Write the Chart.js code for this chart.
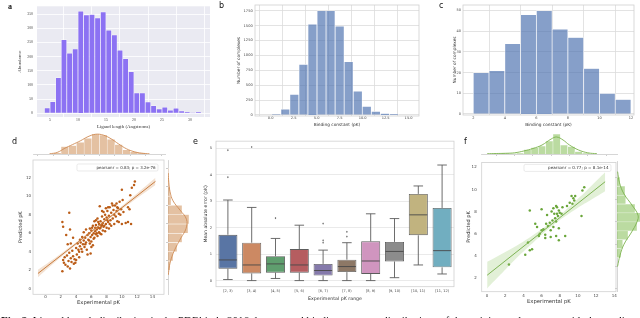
<!DOCTYPE html>
<html>
<head>
<meta charset="utf-8">
<script src="https://cdn.jsdelivr.net/npm/chart.js@4.4.1/dist/chart.umd.min.js"></script>
<style>
  html, body { margin: 0; padding: 0; background: #fff; }
  body { width: 640px; height: 318px; position: relative; overflow: hidden; font-family: "DejaVu Sans", sans-serif; }
  canvas { position: absolute; }
  .lbl { position: absolute; font-size: 8px; line-height: 8px; color: #111; }
  #caption { position: absolute; left: 1px; top: 314.5px; font-family: "Liberation Serif", serif; font-size: 11px; line-height: 11px; white-space: nowrap; color: #111; }
</style>
</head>
<body>
<canvas id="chart-a" width="215" height="135" style="left:0;top:0"></canvas>
<canvas id="chart-b" width="215" height="135" style="left:210px;top:0"></canvas>
<canvas id="chart-c" width="215" height="135" style="left:425px;top:0"></canvas>
<canvas id="chart-d-top" width="168" height="27" style="left:0;top:130px"></canvas>
<canvas id="chart-d-right" width="30" height="140" style="left:165px;top:155px"></canvas>
<canvas id="chart-d" width="168" height="163" style="left:0;top:155px"></canvas>
<canvas id="chart-e" width="275" height="183" style="left:185px;top:135px"></canvas>
<canvas id="chart-f-top" width="160" height="27" style="left:460px;top:130px"></canvas>
<canvas id="chart-f-right" width="32" height="140" style="left:614px;top:155px"></canvas>
<canvas id="chart-f" width="160" height="163" style="left:460px;top:155px"></canvas>

<div class="lbl" style="left:8px;top:3px;font-family:'Liberation Serif',serif;font-weight:bold;">a</div>
<div class="lbl" style="left:219px;top:2px;">b</div>
<div class="lbl" style="left:439px;top:2px;">c</div>
<div class="lbl" style="left:12px;top:138px;">d</div>
<div class="lbl" style="left:193px;top:138px;">e</div>
<div class="lbl" style="left:464px;top:138px;">f</div>
<div id="caption"><b>Fig. 2</b>&nbsp; Ligand length distribution in the PDBbind v2016 data set and binding constant distributions of the training and test sets, with the predicted versus experimental pK</div>

<script>
// --- dados ---

// a: comprimento do ligando (bins de 1 Å)
const ligandLength = [4.5, 5.5, 6.5, 7.5, 8.5, 9.5, 10.5, 11.5, 12.5, 13.5, 14.5, 15.5, 16.5, 17.5,
  18.5, 19.5, 20.5, 21.5, 22.5, 23.5, 24.5, 25.5, 26.5, 27.5, 28.5, 29.5, 30.5, 31.5];
const ligandCount = [19, 41, 126, 260, 212, 227, 361, 348, 349, 337, 358, 294, 277, 223,
  193, 147, 72, 72, 40, 27, 15, 21, 11, 18, 8, 3, 1, 3];

// b: constante de ligação (treino)
const trainPk = [0.60, 1.59, 2.57, 3.56, 4.54, 5.53, 6.51, 7.50, 8.48, 9.47, 10.45, 11.44, 12.42, 13.41];
const trainCount = [17, 100, 347, 850, 1525, 1750, 1750, 1490, 894, 402, 145, 60, 22, 10];

// c: constante de ligação (teste)
const testPk = [2.5, 3.5, 4.5, 5.5, 6.5, 7.5, 8.5, 9.5, 10.5, 11.5];
const testCount = [20, 21, 34, 48, 50, 41, 37, 22, 10, 7];

// d: experimental vs previsto
const dPairs = [
  [2.2, 1.9], [2.3, 3.1], [2.4, 2.8], [2.5, 3.4], [2.6, 2.6], [2.8, 3.6], [2.9, 2.4], [3.0, 3.0], [3.1, 3.9], [3.2, 2.2],
  [3.3, 3.3], [3.4, 2.9], [3.5, 4.1], [3.6, 3.5], [3.7, 2.7], [3.8, 3.2], [3.9, 2.8], [4.0, 3.1], [4.0, 4.4], [4.1, 3.7],
  [4.2, 4.9], [4.3, 4.2], [4.4, 3.4], [4.5, 4.6], [4.5, 5.3], [2.2, 7.2], [2.3, 6.7], [2.7, 5.8], [3.1, 8.2], [3.3, 4.9],
  [2.9, 4.8], [3.6, 5.5], [3.2, 6.4], [4.6, 5.0], [4.7, 4.3], [4.8, 5.6], [4.9, 4.8], [5.0, 5.2], [5.0, 6.1], [5.1, 4.5],
  [5.2, 5.5], [5.3, 5.0], [5.3, 6.4], [5.4, 4.2], [5.5, 5.8], [5.5, 3.7], [5.6, 5.3], [5.7, 6.0], [5.8, 4.9], [5.9, 5.6],
  [5.9, 3.8], [6.0, 6.3], [6.0, 5.1], [6.1, 5.8], [6.2, 6.8], [6.2, 4.7], [6.3, 6.0], [6.4, 5.5], [6.4, 7.3], [6.5, 6.2],
  [6.6, 5.9], [6.6, 6.9], [6.7, 6.4], [6.8, 5.7], [6.8, 7.6], [6.9, 6.6], [7.0, 6.1], [7.0, 7.0], [7.1, 8.9], [7.1, 6.5],
  [7.2, 7.3], [7.3, 5.9], [7.3, 6.8], [7.4, 7.8], [7.5, 6.3], [7.5, 7.1], [7.6, 8.3], [7.6, 6.7], [7.7, 7.5], [7.8, 6.2],
  [7.8, 8.0], [7.9, 8.7], [7.9, 7.0], [8.0, 6.6], [8.0, 7.7], [8.1, 8.4], [8.2, 7.2], [8.3, 6.5], [8.3, 7.9], [8.4, 8.8],
  [8.5, 7.4], [8.6, 6.8], [8.6, 8.2], [8.7, 9.2], [8.8, 7.6], [8.9, 8.5], [9.0, 7.0], [9.0, 8.0], [9.1, 9.0], [9.2, 7.8],
  [9.3, 9.2], [9.3, 8.4], [9.4, 7.3], [9.5, 8.7], [9.6, 7.2], [9.6, 8.1], [9.7, 9.4], [9.8, 8.0], [9.9, 8.6], [10.0, 7.0],
  [10.0, 10.7], [10.1, 9.6], [10.2, 8.3], [10.5, 7.1], [10.8, 8.8], [10.8, 7.2], [11.0, 8.6], [11.1, 10.1], [11.2, 7.0], [11.3, 10.9],
  [11.6, 11.2], [11.7, 11.6], [5.7, 5.2], [6.1, 6.6], [6.3, 5.4], [6.5, 6.6], [6.7, 6.0], [6.9, 7.2], [7.1, 6.0], [7.2, 6.6],
  [7.4, 6.9], [7.7, 6.8], [8.1, 7.4], [8.4, 7.0], [6.0, 4.5], [5.2, 4.8], [4.8, 4.0], [4.4, 4.0], [5.8, 6.5], [6.6, 7.4],
  [7.4, 8.4], [8.2, 8.8], [8.8, 9.0], [9.4, 8.8]
];
const dFitLine = [[-1, 1.65], [14.4, 11.6]];
const dBandUpper = [[-1, 2.05], [2, 3.79], [6, 6.29], [10, 8.94], [14.4, 12.0]];
const dBandLower = [[-1, 1.25], [2, 3.39], [6, 6.05], [10, 8.58], [14.4, 11.2]];
const dStat = "pearsonr = 0.83; p = 3.2e-76";

// d: marginais
const dTopBins = [1.5, 2.5, 3.5, 4.5, 5.5, 6.5, 7.5, 8.5, 9.5, 10.5, 11.5, 12.5];
const dTopCount = [1, 7, 8, 11, 15, 19, 18, 14, 9, 4, 2, 1];
const dTopKde = [[0.5, 0.2], [1.5, 1.5], [2.5, 5.5], [3.5, 9], [4.5, 12.5], [5.5, 16.5], [6.5, 18.8],
  [7.5, 18], [8.5, 14.5], [9.5, 9.5], [10.5, 5], [11.5, 2.2], [12.5, 0.8], [13.5, 0.2]];
const dRightBins = [2.5, 3.5, 4.5, 5.5, 6.5, 7.5, 8.5, 9.5, 10.5, 11.5, 12.5];
const dRightCount = [2, 5, 9, 14, 20, 21, 14, 3, 2, 1, 0.5];
const dRightKde = [[0.3, 1.5], [1.5, 2.5], [4, 3.5], [8, 4.5], [13, 5.5], [18, 6.5], [18.5, 7.5],
  [12, 8.5], [5, 9.5], [2, 10.5], [0.8, 11.5], [0.2, 12.5]];

// e: erro absoluto médio por intervalo de pK
const pkRanges = ["[2, 3)", "[3, 4)", "[4, 5)", "[5, 6)", "[6, 7)", "[7, 8)", "[8, 9)", "[9, 10)", "[10, 11)", "[11, 12)"];
const boxLow = [0.05, 0.01, 0.09, 0.01, 0.01, 0.01, 0.01, 0.12, 0.60, 0.26];
const boxQ1 = [0.46, 0.28, 0.31, 0.31, 0.20, 0.33, 0.26, 0.73, 1.72, 0.51];
const boxMedian = [0.79, 0.60, 0.64, 0.60, 0.39, 0.54, 0.75, 1.11, 2.49, 1.14];
const boxQ3 = [1.74, 1.44, 0.93, 1.20, 0.64, 0.80, 1.49, 1.47, 3.28, 2.75];
const boxHigh = [3.05, 2.77, 1.60, 2.10, 1.16, 1.44, 2.53, 2.35, 3.58, 4.37];
const boxOutliers = [[0, 3.91], [0, 4.93], [1, 5.05], [2, 2.37], [4, 1.44], [4, 1.53], [4, 2.16], [5, 1.67], [5, 1.85]];

// f: experimental vs previsto (conjunto de teste)
const fPairs = [
  [2.4, 3.2], [4.2, 4.1], [4.7, 4.5], [4.95, 4.6], [4.7, 8.1], [6.0, 8.2], [5.3, 6.9], [5.5, 6.6], [6.6, 7.7], [7.1, 8.0],
  [7.3, 8.3], [7.6, 8.5], [7.7, 8.4], [8.3, 8.4], [8.8, 8.5], [9.1, 8.8], [9.3, 9.4], [9.7, 9.4], [9.5, 9.2], [10.4, 7.6],
  [10.7, 10.2], [10.5, 9.9], [7.9, 8.1], [8.0, 7.9], [7.7, 7.8], [8.2, 7.8], [7.4, 7.8], [7.2, 7.2], [6.9, 7.0], [6.5, 6.9],
  [6.7, 6.7], [7.6, 7.1], [7.9, 6.5], [6.4, 5.9], [6.4, 5.6], [7.0, 5.7], [7.6, 5.8], [7.9, 5.4], [8.6, 5.8], [5.8, 6.0],
  [6.0, 6.3], [6.2, 6.4], [7.0, 6.3], [7.3, 6.6], [9.6, 9.0], [9.4, 8.7], [4.5, 5.2], [5.7, 5.8], [7.5, 7.4], [7.8, 7.6]
];
const fFitLine = [[0, 2.24], [13, 10.7]];
const fBandUpper = [[0, 3.45], [1.5, 4.12], [3, 4.8], [5, 5.84], [7.5, 7.32], [10, 9.15], [11.5, 10.34], [13, 11.55]];
const fBandLower = [[0, 1.05], [1.5, 2.32], [3, 3.6], [5, 5.14], [7.5, 6.92], [10, 8.35], [11.5, 9.1], [13, 9.85]];
const fStat = "pearsonr = 0.77; p = 8.1e-14";

const fTopBins = [1.2, 2.0, 2.8, 3.6, 4.4, 5.2, 6.0, 6.8, 7.6, 8.4, 9.2, 10.0, 10.8];
const fTopCount = [0.5, 0.6, 0.4, 0.8, 4.5, 6.5, 8, 13, 20, 9, 7.5, 2.5, 1];
const fTopKde = [[0, 0.3], [1, 0.5], [2, 0.7], [3, 1.2], [4, 3], [5, 5.5], [6, 9], [7, 15], [7.6, 17],
  [8.3, 14], [9, 9], [10, 4], [11, 1.2], [12, 0.3]];
const fRightBins = [4.2, 5.0, 5.8, 6.6, 7.4, 8.2, 9.0, 9.8, 10.6];
const fRightCount = [4, 5.7, 11, 20, 24, 18, 8.7, 8, 3];
const fRightKde = [[0.5, 3], [3, 4], [7, 5], [14, 6], [20, 7], [21, 7.6], [15, 8.5], [7, 9.5], [2.5, 10.5], [0.6, 11.5]];

// --- helpers ---
const SANS = "'DejaVu Sans', sans-serif";
const SERIF = "'Liberation Serif', serif";
const TEXT = "#444";

const xy = (pairs) => pairs.map(([x, y]) => ({ x, y }));

function fixedSize(size) {
  return (scale) => {
    if (scale.isHorizontal()) scale.height = size;
    else scale.width = size;
  };
}

function areaFill(color) {
  return {
    id: "areaFill",
    beforeDraw(chart) {
      const { ctx, chartArea: a } = chart;
      ctx.save();
      ctx.fillStyle = color;
      ctx.fillRect(a.left, a.top, a.right - a.left, a.bottom - a.top);
      ctx.restore();
    },
  };
}

function frame(color) {
  return {
    id: "frame",
    afterDatasetsDraw(chart) {
      const { ctx, chartArea: a } = chart;
      ctx.save();
      ctx.strokeStyle = color;
      ctx.lineWidth = 0.8;
      ctx.strokeRect(a.left, a.top, a.right - a.left, a.bottom - a.top);
      ctx.restore();
    },
  };
}

function statBox(text, rightInset, topInset, w, h, size) {
  return {
    id: "statBox",
    afterDraw(chart) {
      const { ctx, chartArea: a } = chart;
      const x = a.right - rightInset - w;
      const y = a.top + topInset;
      ctx.save();
      ctx.fillStyle = "rgba(255,255,255,0.85)";
      ctx.strokeStyle = "#dcdcdc";
      ctx.lineWidth = 0.6;
      ctx.beginPath();
      ctx.roundRect(x, y, w, h, 1.5);
      ctx.fill();
      ctx.stroke();
      ctx.fillStyle = "#333";
      ctx.font = `${size}px ${SANS}`;
      ctx.textAlign = "right";
      ctx.textBaseline = "middle";
      ctx.fillText(text, x + w - 2.5, y + h / 2 + 0.3);
      ctx.restore();
    },
  };
}

const noLegend = { legend: { display: false }, tooltip: { enabled: false } };

// histograma simples (a, b, c)
function histogram(id, bins, counts, cfg) {
  return new Chart(document.getElementById(id), {
    type: "bar",
    data: {
      datasets: [{
        data: bins.map((b, i) => ({ x: b, y: counts[i] })),
        backgroundColor: cfg.color,
        borderColor: cfg.edge,
        borderWidth: 0.7,
        barPercentage: 1,
        categoryPercentage: 1,
      }],
    },
    options: {
      responsive: false,
      animation: false,
      events: [],
      layout: { padding: { top: cfg.top, right: cfg.right, left: 0, bottom: 0 } },
      plugins: noLegend,
      scales: {
        x: {
          type: "linear", min: cfg.xMin, max: cfg.xMax, offset: false,
          ticks: { stepSize: cfg.xStep, includeBounds: false, padding: cfg.xTickPad, color: TEXT,
            font: { family: cfg.font, size: cfg.tickSize },
            callback: cfg.xFmt || ((v) => String(v)) },
          grid: { color: cfg.grid, lineWidth: 0.8, drawTicks: false },
          border: { display: false },
          title: { display: true, text: cfg.xTitle, color: "#333",
            font: { family: cfg.font, size: cfg.titleSize }, padding: { top: 0, bottom: cfg.xTitlePad } },
          afterFit: fixedSize(cfg.xAxisH),
        },
        y: {
          min: cfg.yMin, max: cfg.yMax,
          ticks: { stepSize: cfg.yStep, includeBounds: false, padding: cfg.yTickPad, color: TEXT,
            font: { family: cfg.font, size: cfg.tickSize },
            callback: (v) => String(v) },
          grid: { color: cfg.grid, lineWidth: 0.8, drawTicks: false },
          border: { display: false },
          title: { display: true, text: cfg.yTitle, color: "#333",
            font: { family: cfg.font, size: cfg.titleSize }, padding: { top: cfg.yTitlePad, bottom: 0 } },
          afterFit: fixedSize(cfg.yAxisW),
        },
      },
    },
    plugins: cfg.plugins,
  });
}

// marginal de cima
function topMarginal(id, bins, counts, kde, cfg) {
  return new Chart(document.getElementById(id), {
    type: "bar",
    data: {
      datasets: [
        { type: "line", data: xy(kde), borderColor: cfg.line, borderWidth: 0.9, pointRadius: 0, tension: 0.4, fill: false },
        { data: bins.map((b, i) => ({ x: b, y: counts[i] })), backgroundColor: cfg.color,
          borderColor: "rgba(255,255,255,0.8)", borderWidth: 0.5, barPercentage: 1, categoryPercentage: 1 },
      ],
    },
    options: {
      responsive: false, animation: false, events: [],
      layout: { padding: { top: 3, left: cfg.left, right: cfg.right, bottom: 0 } },
      plugins: noLegend,
      scales: {
        x: { type: "linear", min: cfg.xMin, max: cfg.xMax, offset: false,
          ticks: { display: false, stepSize: 2, includeBounds: false },
          grid: { drawOnChartArea: false, drawTicks: true, tickLength: 2, color: "#cccccc" },
          border: { color: "#cccccc", width: 0.8 },
          afterFit: fixedSize(3) },
        y: { display: false, min: 0, max: cfg.yMax },
      },
    },
  });
}

// marginal da direita (barras horizontais)
function rightMarginal(id, bins, counts, kde, cfg) {
  return new Chart(document.getElementById(id), {
    type: "bar",
    data: {
      datasets: [
        { type: "line", data: xy(kde), borderColor: cfg.line, borderWidth: 0.9, pointRadius: 0, tension: 0.4, fill: false },
        { data: bins.map((b, i) => ({ x: counts[i], y: b })), backgroundColor: cfg.color,
          borderColor: "rgba(255,255,255,0.8)", borderWidth: 0.5, barPercentage: 1, categoryPercentage: 1 },
      ],
    },
    options: {
      indexAxis: "y",
      responsive: false, animation: false, events: [],
      layout: { padding: { top: cfg.top, bottom: cfg.bottom, left: 0, right: 0 } },
      plugins: noLegend,
      scales: {
        y: { type: "linear", position: "left", min: cfg.yMin, max: cfg.yMax, offset: false,
          ticks: { display: false, stepSize: 2, includeBounds: false },
          grid: { drawOnChartArea: false, drawTicks: true, tickLength: 2, color: "#cccccc" },
          border: { color: "#cccccc", width: 0.8 },
          afterFit: fixedSize(3) },
        x: { display: false, min: 0, max: cfg.xMax },
      },
    },
  });
}

// dispersão com recta de regressão
function jointScatter(id, pairs, line, upper, lower, cfg) {
  return new Chart(document.getElementById(id), {
    type: "scatter",
    data: {
      datasets: [
        { data: xy(pairs), backgroundColor: cfg.point, pointRadius: 1.25, borderWidth: 0, order: 3 },
        { type: "line", data: xy(upper), borderWidth: 0, pointRadius: 0, fill: "+1",
          backgroundColor: cfg.band, tension: 0.4, order: 2 },
        { type: "line", data: xy(lower), borderWidth: 0, pointRadius: 0, fill: false, tension: 0.4, order: 2 },
        { type: "line", data: xy(line), borderColor: cfg.line, borderWidth: 0.9, pointRadius: 0, fill: false, order: 1 },
      ],
    },
    options: {
      responsive: false, animation: false, events: [],
      layout: { padding: { top: cfg.top, right: cfg.right, left: 0, bottom: 0 } },
      plugins: noLegend,
      scales: {
        x: { type: "linear", min: cfg.xMin, max: cfg.xMax,
          ticks: { stepSize: 2, includeBounds: false, padding: cfg.xTickPad, color: TEXT, font: { family: SANS, size: 4 } },
          grid: { display: false, drawTicks: false },
          border: { display: false },
          title: { display: true, text: "Experimental pK", color: "#333",
            font: { family: SANS, size: cfg.xTitleSize }, padding: { top: 0, bottom: cfg.xTitlePad } },
          afterFit: fixedSize(cfg.xAxisH) },
        y: { min: cfg.yMin, max: cfg.yMax,
          ticks: { stepSize: 2, includeBounds: false, padding: cfg.yTickPad, color: TEXT, font: { family: SANS, size: 4 } },
          grid: { display: false, drawTicks: false },
          border: { display: false },
          title: { display: true, text: "Predicted pK", color: "#333",
            font: { family: SANS, size: 5 }, padding: { top: cfg.yTitlePad, bottom: 0 } },
          afterFit: fixedSize(cfg.yAxisW) },
      },
    },
    plugins: [frame("#d0d0d0"), statBox(cfg.stat, cfg.boxRight, cfg.boxTop, cfg.boxW, 7, cfg.boxFont)],
  });
}

// --- a ---
histogram("chart-a", ligandLength, ligandCount, {
  color: "#8c72f3", edge: "rgba(255,255,255,0.55)", grid: "#ffffff", font: SERIF,
  tickSize: 3.8, titleSize: 4.9, top: 1, right: 5,
  xMin: 2.68, xMax: 33.57, xStep: 5, yMin: -13.5, yMax: 378, yStep: 50,
  xTickPad: 1.2, yTickPad: 4, xTitle: "Ligand length (Angstroms)", yTitle: "Abundance",
  xTitlePad: 5, yTitlePad: 17, xAxisH: 18, yAxisW: 37,
  plugins: [areaFill("#eaeaf2")],
});

// --- b ---
histogram("chart-b", trainPk, trainCount, {
  color: "rgba(76,114,176,0.68)", edge: "rgba(255,255,255,0.75)", grid: "#dcdcdc", font: SANS,
  tickSize: 3.6, titleSize: 4.3, top: 5, right: 6,
  xMin: -1.71, xMax: 16.13, xStep: 2.5, yMin: -17, yMax: 1846, yStep: 250,
  xTickPad: 0.3, yTickPad: 2.3, xTitle: "Binding constant (pK)", yTitle: "Number of complexes",
  xTitlePad: 8, yTitlePad: 26, xAxisH: 19, yAxisW: 45,
  xFmt: (v) => v.toFixed(1),
  plugins: [frame("#d0d0d0")],
});

// --- c ---
histogram("chart-c", testPk, testCount, {
  color: "rgba(76,114,176,0.68)", edge: "rgba(255,255,255,0.75)", grid: "#dcdcdc", font: SANS,
  tickSize: 3.5, titleSize: 4.3, top: 5, right: 6,
  xMin: 1.35, xMax: 12.19, xStep: 2, yMin: -0.5, yMax: 52.7, yStep: 10,
  xTickPad: 0.6, yTickPad: 2, xTitle: "Binding constant (pK)", yTitle: "Number of complexes",
  xTitlePad: 8, yTitlePad: 27, xAxisH: 20, yAxisW: 38,
  plugins: [frame("#d0d0d0")],
});

// --- d ---
topMarginal("chart-d-top", dTopBins, dTopCount, dTopKde, {
  color: "rgba(214,160,112,0.65)", line: "#cf8b55", left: 33, right: 3, xMin: -1.65, xMax: 15.52, yMax: 20,
});
rightMarginal("chart-d-right", dRightBins, dRightCount, dRightKde, {
  color: "rgba(214,160,112,0.65)", line: "#cf8b55", top: 5, bottom: 0.7, yMin: -0.6, yMax: 13.91, xMax: 27,
});
jointScatter("chart-d", dPairs, dFitLine, dBandUpper, dBandLower, {
  point: "#bb5d18", line: "#c4702e", band: "rgba(214,160,110,0.3)",
  top: 5, right: 3, xMin: -1.65, xMax: 15.52, yMin: -0.6, yMax: 13.91,
  xTickPad: 0.4, yTickPad: 2, xTitleSize: 5.2, xTitlePad: 12.4, yTitlePad: 17.7, xAxisH: 23.7, yAxisW: 33,
  stat: dStat, boxRight: 6, boxTop: 4, boxW: 81, boxFont: 4,
});

// --- e: boxplot ---
const boxColors = ["#5975a4", "#cc8963", "#5f9e6e", "#b55d60", "#857aab", "#8d7866", "#d095bf", "#8c8c8c", "#c1b37f", "#71aec0"];
const boxLines = "#5c5c5c";

const whiskers = {
  id: "whiskers",
  afterDatasetsDraw(chart) {
    const { ctx, scales: { x, y } } = chart;
    const bars = chart.getDatasetMeta(0).data;
    ctx.save();
    ctx.strokeStyle = boxLines;
    ctx.lineWidth = 0.9;
    boxLow.forEach((lo, i) => {
      const cx = x.getPixelForValue(i);
      const cap = bars[i].width / 4;
      const half = bars[i].width / 2;
      ctx.beginPath();
      ctx.moveTo(cx, y.getPixelForValue(boxQ1[i]));
      ctx.lineTo(cx, y.getPixelForValue(lo));
      ctx.moveTo(cx - cap, y.getPixelForValue(lo));
      ctx.lineTo(cx + cap, y.getPixelForValue(lo));
      ctx.moveTo(cx, y.getPixelForValue(boxQ3[i]));
      ctx.lineTo(cx, y.getPixelForValue(boxHigh[i]));
      ctx.moveTo(cx - cap, y.getPixelForValue(boxHigh[i]));
      ctx.lineTo(cx + cap, y.getPixelForValue(boxHigh[i]));
      ctx.stroke();
      ctx.beginPath();
      ctx.strokeStyle = "#484848";
      ctx.moveTo(cx - half + 0.5, y.getPixelForValue(boxMedian[i]));
      ctx.lineTo(cx + half - 0.5, y.getPixelForValue(boxMedian[i]));
      ctx.stroke();
      ctx.strokeStyle = boxLines;
    });
    ctx.fillStyle = "#5c5c5c";
    boxOutliers.forEach(([i, v]) => {
      const px = x.getPixelForValue(i);
      const py = y.getPixelForValue(v);
      ctx.beginPath();
      ctx.moveTo(px, py - 1.1);
      ctx.lineTo(px + 0.8, py);
      ctx.lineTo(px, py + 1.1);
      ctx.lineTo(px - 0.8, py);
      ctx.closePath();
      ctx.fill();
    });
    ctx.restore();
  },
};

new Chart(document.getElementById("chart-e"), {
  type: "bar",
  data: {
    labels: pkRanges,
    datasets: [{
      data: boxQ1.map((q, i) => [q, boxQ3[i]]),
      backgroundColor: boxColors,
      borderColor: boxLines,
      borderWidth: 0.9,
      borderSkipped: false,
      barPercentage: 0.8,
      categoryPercentage: 1,
    }],
  },
  options: {
    responsive: false, animation: false, events: [],
    layout: { padding: { top: 3.3, right: 6, left: 0, bottom: 0 } },
    plugins: noLegend,
    scales: {
      x: {
        ticks: { padding: 2.6, color: TEXT, font: { family: SANS, size: 3.5 } },
        grid: { display: false, drawTicks: false },
        border: { display: false },
        title: { display: true, text: "Experimental pK range", color: "#333",
          font: { family: SANS, size: 4.7 }, padding: { top: 0, bottom: 16.5 } },
        afterFit: fixedSize(31.3),
      },
      y: {
        min: -0.22, max: 5.27,
        ticks: { stepSize: 1, includeBounds: false, padding: 4, color: TEXT, font: { family: SANS, size: 3.6 } },
        grid: { color: "#e4e4e4", lineWidth: 0.8, drawTicks: false },
        border: { display: false },
        title: { display: true, text: "Mean absolute error (pK)", color: "#333",
          font: { family: SANS, size: 4.6 }, padding: { top: 18, bottom: 0 } },
        afterFit: fixedSize(31),
      },
    },
  },
  plugins: [frame("#d0d0d0"), whiskers],
});

// --- f ---
topMarginal("chart-f-top", fTopBins, fTopCount, fTopKde, {
  color: "rgba(150,200,110,0.65)", line: "#7cb24e", left: 21.7, right: 3, xMin: -0.6, xMax: 14.2, yMax: 21,
});
rightMarginal("chart-f-right", fRightBins, fRightCount, fRightKde, {
  color: "rgba(150,200,110,0.65)", line: "#7cb24e", top: 6, bottom: 3.3, yMin: 0.75, yMax: 12.45, xMax: 29,
});
jointScatter("chart-f", fPairs, fFitLine, fBandUpper, fBandLower, {
  point: "#6aa63a", line: "#72ac44", band: "rgba(150,200,110,0.28)",
  top: 6, right: 3, xMin: -0.6, xMax: 14.2, yMin: 0.75, yMax: 12.45,
  xTickPad: 2, yTickPad: 5, xTitleSize: 5.3, xTitlePad: 13, yTitlePad: 5.3, xAxisH: 26.3, yAxisW: 21.7,
  stat: fStat, boxRight: 5, boxTop: 2, boxW: 87, boxFont: 4.1,
});
</script>
</body>
</html>
